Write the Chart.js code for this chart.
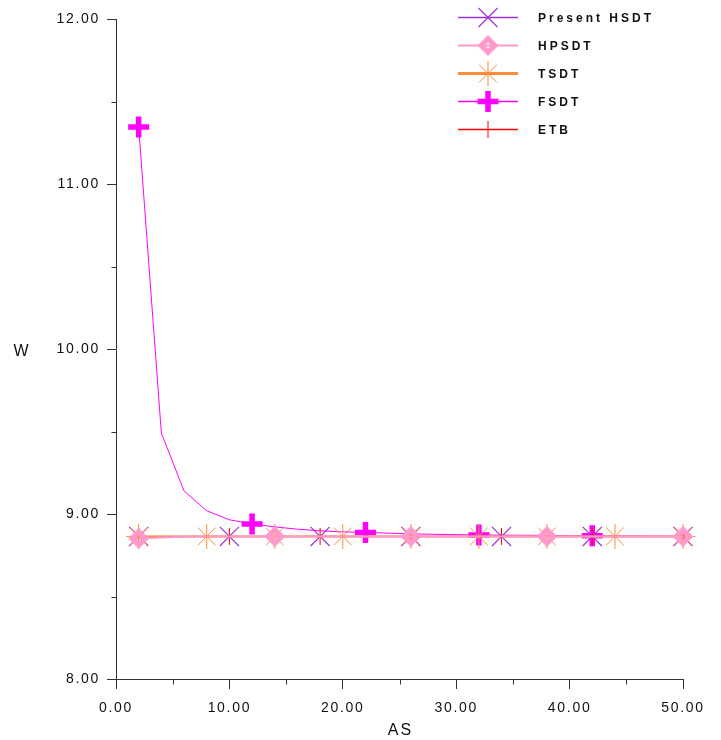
<!DOCTYPE html>
<html lang="en">
<head>
    <meta charset="UTF-8">
    <title>W vs AS</title>
    <script src="https://cdn.jsdelivr.net/npm/chart.js"></script>
    <style>
        body {
            margin: 0;
            background: #ffffff;
        }
        #wrap {
            width: 721px;
            height: 740px;
        }
    </style>
</head>
<body>
    <div id="wrap"><canvas id="wChart" width="721" height="740"></canvas></div>

    <script>
        // data
        const asValues = [2, 4, 6, 8, 10, 12, 14, 16, 18, 20, 22, 24, 26, 28, 30, 32, 34, 36, 38, 40, 42, 44, 46, 48, 50];

        const presentHsdt = [8.864, 8.864, 8.864, 8.864, 8.864, 8.864, 8.864, 8.864, 8.864, 8.864, 8.864, 8.864, 8.864,
                             8.864, 8.864, 8.864, 8.864, 8.864, 8.864, 8.864, 8.864, 8.864, 8.864, 8.864, 8.864];
        const hpsdt = [8.852, 8.858, 8.862, 8.864, 8.864, 8.864, 8.864, 8.864, 8.864, 8.864, 8.864, 8.864, 8.864,
                       8.864, 8.864, 8.864, 8.864, 8.864, 8.864, 8.864, 8.864, 8.864, 8.864, 8.864, 8.864];
        const tsdt = [8.864, 8.864, 8.864, 8.864, 8.864, 8.864, 8.864, 8.864, 8.864, 8.864, 8.864, 8.864, 8.864,
                      8.864, 8.864, 8.864, 8.864, 8.864, 8.864, 8.864, 8.864, 8.864, 8.864, 8.864, 8.864];
        const fsdt = [11.345, 9.49, 9.14, 9.02, 8.965, 8.94, 8.922, 8.908, 8.898, 8.892, 8.888, 8.884, 8.88,
                      8.877, 8.875, 8.873, 8.872, 8.871, 8.87, 8.869, 8.868, 8.867, 8.867, 8.866, 8.866];
        const etb = [8.864, 8.864, 8.864, 8.864, 8.864, 8.864, 8.864, 8.864, 8.864, 8.864, 8.864, 8.864, 8.864,
                     8.864, 8.864, 8.864, 8.864, 8.864, 8.864, 8.864, 8.864, 8.864, 8.864, 8.864, 8.864];

        // where each curve shows a symbol
        const hsdtMarks = [2, 10, 18, 26, 34, 42, 50];
        const hpsdtMarks = [2, 14, 26, 38, 50];
        const tsdtMarks = [2, 8, 14, 20, 26, 32, 38, 44, 50];
        const fsdtMarks = [2, 12, 22, 32, 42];
        const etbMarks = [2, 10, 18, 26, 34, 42, 50];

        const xMinorTicks = [5, 15, 25, 35, 45];
        const yMinorTicks = [8.5, 9.5, 10.5, 11.5];

        // hollow pink diamond used by HPSDT
        function makeDiamond() {
            const c = document.createElement('canvas');
            c.width = 22;
            c.height = 22;
            const g = c.getContext('2d');
            g.fillStyle = '#ff99cc';
            g.beginPath();
            g.moveTo(11, 0.5); g.lineTo(21.5, 11); g.lineTo(11, 21.5); g.lineTo(0.5, 11);
            g.closePath();
            g.fill();
            g.globalCompositeOperation = 'destination-out';
            g.beginPath();
            g.moveTo(11, 8); g.lineTo(14, 11); g.lineTo(11, 14); g.lineTo(8, 11);
            g.closePath();
            g.fill();
            return c;
        }
        const diamond = makeDiamond();

        function pts(ys) {
            return asValues.map((x, i) => ({ x: x, y: ys[i] }));
        }
        function radiusAt(marks, r) {
            return ctx => (ctx.raw && marks.includes(ctx.raw.x)) ? r : 0;
        }

        const series = [
            { label: 'Present HSDT', data: pts(presentHsdt), color: '#a033d6', width: 1, legendWidth: 1.5, style: 'crossRot', r: 13.5, bw: 1.2, marks: hsdtMarks, order: 4 },
            { label: 'HPSDT', data: pts(hpsdt), color: '#ff99cc', width: 2, legendWidth: 2, style: diamond, r: 10, bw: 1, marks: hpsdtMarks, order: 1 },
            { label: 'TSDT', data: pts(tsdt), color: '#ff8c3a', width: 2, legendWidth: 3, style: 'star', r: 12.5, bw: 1, marks: tsdtMarks, order: 2 },
            { label: 'FSDT', data: pts(fsdt), color: '#ff00ff', width: 1, legendWidth: 1.5, style: 'cross', r: 10.5, bw: 5.5, marks: fsdtMarks, order: 5 },
            { label: 'ETB', data: pts(etb), color: '#ff0000', width: 1, legendWidth: 1.5, style: 'cross', r: 8.5, bw: 1, marks: etbMarks, order: 3 }
        ];

        // minor ticks, axis titles and the legend
        const extras = {
            id: 'extras',
            beforeDraw(chart) {
                chart.ctx.letterSpacing = '1.7px';
            },
            afterDraw(chart) {
                const c = chart.ctx;
                const xs = chart.scales.x, ys = chart.scales.y;
                const left = Math.round(chart.chartArea.left) + 0.5;
                const bottom = Math.round(chart.chartArea.bottom) + 0.5;
                c.save();
                c.strokeStyle = '#333';
                c.lineWidth = 1;
                c.beginPath();
                yMinorTicks.forEach(v => {
                    const y = Math.round(ys.getPixelForValue(v)) + 0.5;
                    c.moveTo(left - 5, y); c.lineTo(left, y);
                });
                xMinorTicks.forEach(v => {
                    const x = Math.round(xs.getPixelForValue(v)) + 0.5;
                    c.moveTo(x, bottom); c.lineTo(x, bottom + 5);
                });
                c.stroke();

                c.fillStyle = '#111';
                c.font = '16px "Liberation Sans", Arial, sans-serif';
                c.letterSpacing = '2px';
                c.textAlign = 'center';
                c.textBaseline = 'middle';
                c.fillText('AS', (chart.chartArea.left + chart.chartArea.right) / 2 + 1, 731);
                c.letterSpacing = '0px';
                c.fillText('W', 21, 352);

                // legend
                series.forEach((s, i) => {
                    const y = 17 + i * 28 + 0.5;
                    c.strokeStyle = s.color;
                    c.lineWidth = s.legendWidth;
                    c.beginPath();
                    c.moveTo(458, y); c.lineTo(518, y);
                    c.stroke();
                    c.strokeStyle = s.color;
                    c.fillStyle = s.color;
                    c.lineWidth = s.bw;
                    Chart.helpers.drawPoint(c, { pointStyle: s.style, radius: s.r, rotation: 0, borderWidth: s.bw }, 488, y);
                    c.fillStyle = '#111';
                    c.font = 'bold 12px "Liberation Sans", Arial, sans-serif';
                    c.letterSpacing = '3px';
                    c.textAlign = 'left';
                    c.fillText(s.label, 538, y + 1.5);
                });
                c.restore();
                chart.ctx.letterSpacing = '0px';
            }
        };

        const tickFont = { family: '"Liberation Sans", Arial, sans-serif', size: 14 };

        new Chart(document.getElementById('wChart'), {
            type: 'line',
            data: {
                datasets: series.map(s => ({
                    label: s.label,
                    data: s.data,
                    borderColor: s.color,
                    borderWidth: s.width,
                    backgroundColor: s.color,
                    pointStyle: s.style,
                    pointRadius: radiusAt(s.marks, s.r),
                    pointHoverRadius: radiusAt(s.marks, s.r),
                    pointBorderColor: s.color,
                    pointBackgroundColor: s.color,
                    pointBorderWidth: s.bw,
                    tension: 0,
                    fill: false,
                    clip: false,
                    order: s.order
                }))
            },
            options: {
                responsive: false,
                animation: false,
                events: [],
                layout: { padding: { top: 19, right: 38, left: 0, bottom: 0 } },
                plugins: {
                    legend: { display: false },
                    tooltip: { enabled: false }
                },
                scales: {
                    x: {
                        type: 'linear',
                        min: 0,
                        max: 50,
                        ticks: {
                            stepSize: 10,
                            padding: 11,
                            color: '#111',
                            font: tickFont,
                            callback: v => v.toFixed(2)
                        },
                        grid: { drawOnChartArea: false, tickLength: 10, color: '#333' },
                        border: { color: '#333' },
                        afterFit: scale => { scale.height = 61; }
                    },
                    y: {
                        min: 8,
                        max: 12,
                        ticks: {
                            stepSize: 1,
                            padding: 7,
                            color: '#111',
                            font: tickFont,
                            callback: v => v.toFixed(2)
                        },
                        grid: { drawOnChartArea: false, tickLength: 9, color: '#333' },
                        border: { color: '#333' },
                        afterFit: scale => { scale.width = 116; }
                    }
                }
            },
            plugins: [extras]
        });
    </script>
</body>
</html>
